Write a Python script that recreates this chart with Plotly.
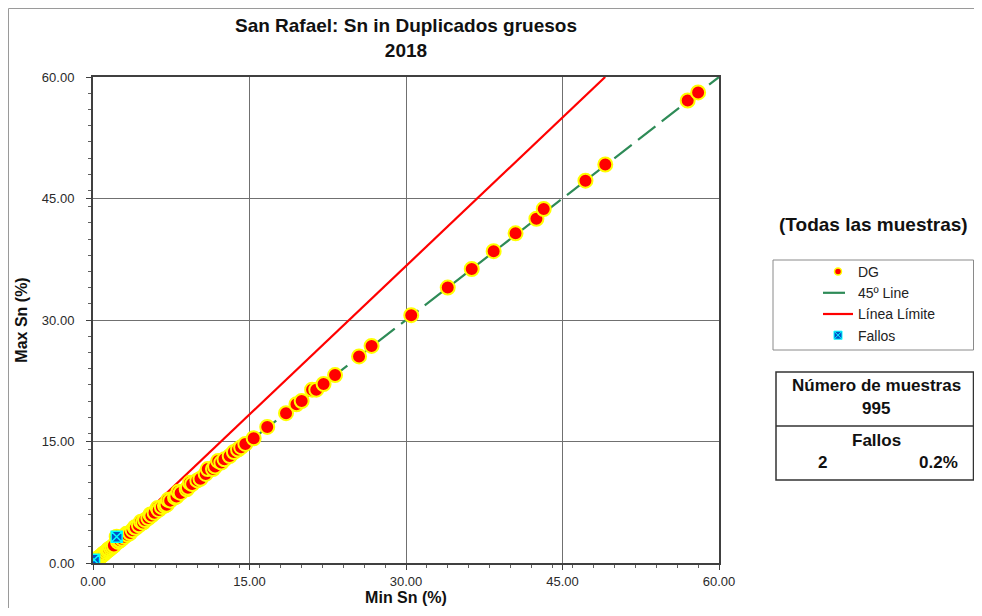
import plotly.graph_objects as go

# ---------------- data ----------------
min_sn = [0.02, 0.05, 0.08, 0.1, 0.12, 0.15, 0.2, 0.25, 0.3, 0.35, 0.4, 0.5, 0.5, 0.6, 0.7, 0.8,
          0.9, 1.0, 1.0, 1.1, 1.25, 1.4, 1.5, 1.55, 1.7, 1.85, 2.0, 2.27, 2.4, 2.5, 2.6, 2.8,
          3.0, 3.2, 3.3, 3.55, 3.8, 4.0, 4.1, 4.4, 4.6, 4.8, 5.0, 5.3, 5.5, 5.6, 5.9, 6.2,
          6.3, 6.6, 6.9, 7.06, 7.2, 7.4, 7.86, 8.0, 8.2, 8.4, 8.98, 9.1, 9.3, 9.5, 10.0,
          10.3, 10.8, 11.0, 11.5, 11.7, 12.0, 12.3, 12.6, 13.1, 13.5, 13.9, 14.2, 14.6,
          15.4, 16.7, 18.5, 19.5, 20.0, 21.0, 21.4, 22.1, 23.2, 25.5, 26.7, 30.5, 34.0,
          36.3, 38.4, 40.5, 42.5, 43.2, 47.2, 49.1, 57.0, 58.0]
max_sn = [0.03, 0.07, 0.1, 0.4, 0.14, 0.18, 0.23, 0.29, 0.34, 0.4, 0.46, 0.56, 0.6, 0.67, 0.78, 0.88,
          0.98, 1.1, 1.15, 1.2, 1.38, 1.52, 1.7, 1.7, 1.85, 2.0, 2.15, 3.25, 2.6, 2.8, 2.8, 3.0,
          3.25, 3.6, 3.5, 3.7, 4.05, 4.4, 4.35, 4.65, 5.1, 5.0, 5.3, 5.55, 6.0, 5.85, 6.2, 6.8,
          6.55, 6.9, 7.1, 7.2, 7.8, 7.7, 8.1, 8.2, 8.8, 8.65, 9.1, 9.3, 9.9, 9.75, 10.2,
          10.4, 11.0, 11.6, 11.6, 11.9, 12.6, 12.4, 12.8, 13.2, 13.7, 14.0, 14.3, 14.7,
          15.4, 16.8, 18.5, 19.6, 20.0, 21.4, 21.4, 22.1, 23.2, 25.5, 26.8, 30.6, 34.0,
          36.3, 38.5, 40.7, 42.5, 43.7, 47.2, 49.2, 57.1, 58.1]

fallos_min = [0.1, 2.27]
fallos_max = [0.4, 3.25]

line45_x = [0, 60]
line45_y = [0, 60]

limit_factor = 1.1 / 0.9  # 10% relative difference limit
limit_x = [0, 60 / limit_factor]
limit_y = [0, 60]

tick_vals = [0, 15, 30, 45, 60]
tick_text = ["0.00", "15.00", "30.00", "45.00", "60.00"]

n_muestras = 995
n_fallos = 2
pct_fallos = "0.2%"

# ---------------- layout helpers ----------------
OFF = 8  # page body margin offset
W, H = 982 - 2 * OFF, 616 - 2 * OFF
L, T = 93 - OFF, 77 - OFF
R = W - (719 - OFF)
B = H - (563 - OFF)
PW, PH = W - L - R, H - T - B


def px(x):  # reference screen x -> paper
    return (x - OFF - L) / PW


def py(y):  # reference screen y -> paper
    return (H - B - (y - OFF)) / PH


FONT = "Arial, Liberation Sans, sans-serif"
RIGHT_EDGE = 973.5

fig = go.Figure()

# limit line
fig.add_trace(go.Scatter(x=limit_x, y=limit_y, mode="lines",
                         line=dict(color="#FF0000", width=2.2),
                         name="Línea Límite", showlegend=False, hoverinfo="skip"))
# 45 line
fig.add_trace(go.Scatter(x=line45_x, y=line45_y, mode="lines",
                         line=dict(color="#2E8B57", width=2.2, dash="22px,8px"),
                         name="45º Line", showlegend=False, hoverinfo="skip"))
# DG points
fig.add_trace(go.Scatter(x=min_sn, y=max_sn, mode="markers", name="DG", showlegend=False,
                         marker=dict(size=14, color="#FF0000",
                                     line=dict(color="#FFFF00", width=2))))
# Fallos
fig.add_trace(go.Scatter(x=fallos_min, y=fallos_max, mode="markers", name="Fallos",
                         showlegend=False,
                         marker=dict(symbol="square-x", size=11, color="#0050C8",
                                     line=dict(color="#00FFFF", width=1.5))))

# legend entries
fig.add_trace(go.Scatter(x=[None], y=[None], mode="markers", name="DG", legendgroup="a",
                         marker=dict(size=7, color="#FF0000",
                                     line=dict(color="#FFFF00", width=1.5))))
fig.add_trace(go.Scatter(x=[None], y=[None], mode="lines", name="45º Line", legendgroup="b",
                         line=dict(color="#2E8B57", width=2.2, dash="22px,8px")))
fig.add_trace(go.Scatter(x=[None], y=[None], mode="lines", name="Línea Límite", legendgroup="c",
                         line=dict(color="#FF0000", width=2.2)))
fig.add_trace(go.Scatter(x=[None], y=[None], mode="markers", name="Fallos", legendgroup="d",
                         marker=dict(symbol="square-x", size=8, color="#0050C8",
                                     line=dict(color="#00FFFF", width=1))))

axis_common = dict(
    range=[0, 60], tickvals=tick_vals, ticktext=tick_text,
    showgrid=True, gridcolor="#707070", gridwidth=1,
    showline=True, linecolor="#404040", linewidth=2, mirror=True,
    ticks="outside", ticklen=5, tickcolor="#404040", tickwidth=1,
    minor=dict(dtick=2, tick0=0, ticks="outside", ticklen=3, tickcolor="#606060",
               showgrid=False),
    zeroline=False,
    tickfont=dict(family=FONT, size=13, color="#2a2a2a"),
    fixedrange=True,
)

fig.update_layout(
    width=W, height=H,
    margin=dict(l=L, r=R, t=T, b=B, autoexpand=False),
    paper_bgcolor="white", plot_bgcolor="white",
    title=dict(text="<b>San Rafael: Sn in Duplicados gruesos<br>2018</b>",
               x=0.5, xref="paper", xanchor="center",
               y=1 - (32 - OFF) / H, yref="container", yanchor="middle",
               font=dict(family=FONT, size=19, color="#111111")),
    xaxis=dict(axis_common,
               title=dict(text="<b>Min Sn (%)</b>", standoff=2,
                          font=dict(family=FONT, size=16, color="#111111"))),
    yaxis=dict(axis_common, ticklabelstandoff=9,
               title=dict(text="<b>Max Sn (%)</b>", standoff=10,
                          font=dict(family=FONT, size=16, color="#111111"))),
    legend=dict(x=px(818), y=py(256), xanchor="left", yanchor="top",
                bgcolor="rgba(0,0,0,0)", borderwidth=0,
                font=dict(family=FONT, size=14, color="#222222"),
                tracegroupgap=2.3, traceorder="normal"),
    showlegend=True,
)

shapes = [
    # outer figure border
    dict(type="rect", xref="paper", yref="paper", x0=px(8.5), x1=px(990), y0=py(640), y1=py(8.5),
         line=dict(color="#9a9a9a", width=1)),
    # legend box
    dict(type="rect", xref="paper", yref="paper", x0=px(773), x1=px(RIGHT_EDGE), y0=py(350), y1=py(260),
         line=dict(color="#8a8a8a", width=1)),
    # stats table
    dict(type="rect", xref="paper", yref="paper", x0=px(776), x1=px(RIGHT_EDGE), y0=py(480), y1=py(372),
         line=dict(color="#333333", width=1.5)),
    dict(type="line", xref="paper", yref="paper", x0=px(776), x1=px(RIGHT_EDGE), y0=py(426), y1=py(426),
         line=dict(color="#333333", width=1.5)),
]
fig.update_layout(shapes=shapes)


def ann(text, x, y, size=17, xanchor="center"):
    fig.add_annotation(text=text, x=px(x), y=py(y), xref="paper", yref="paper",
                       xanchor=xanchor, yanchor="middle", showarrow=False,
                       font=dict(family=FONT, size=size, color="#111111"))


ann("<b>(Todas las muestras)</b>", 873, 224, size=19)
ann("<b>Número de muestras</b>", 876, 386)
ann(f"<b>{n_muestras}</b>", 876, 408)
ann("<b>Fallos</b>", 876, 440)
ann(f"<b>{n_fallos}</b>", 822, 462)
ann(f"<b>{pct_fallos}</b>", 938, 462)

fig.write_html("out.html")
